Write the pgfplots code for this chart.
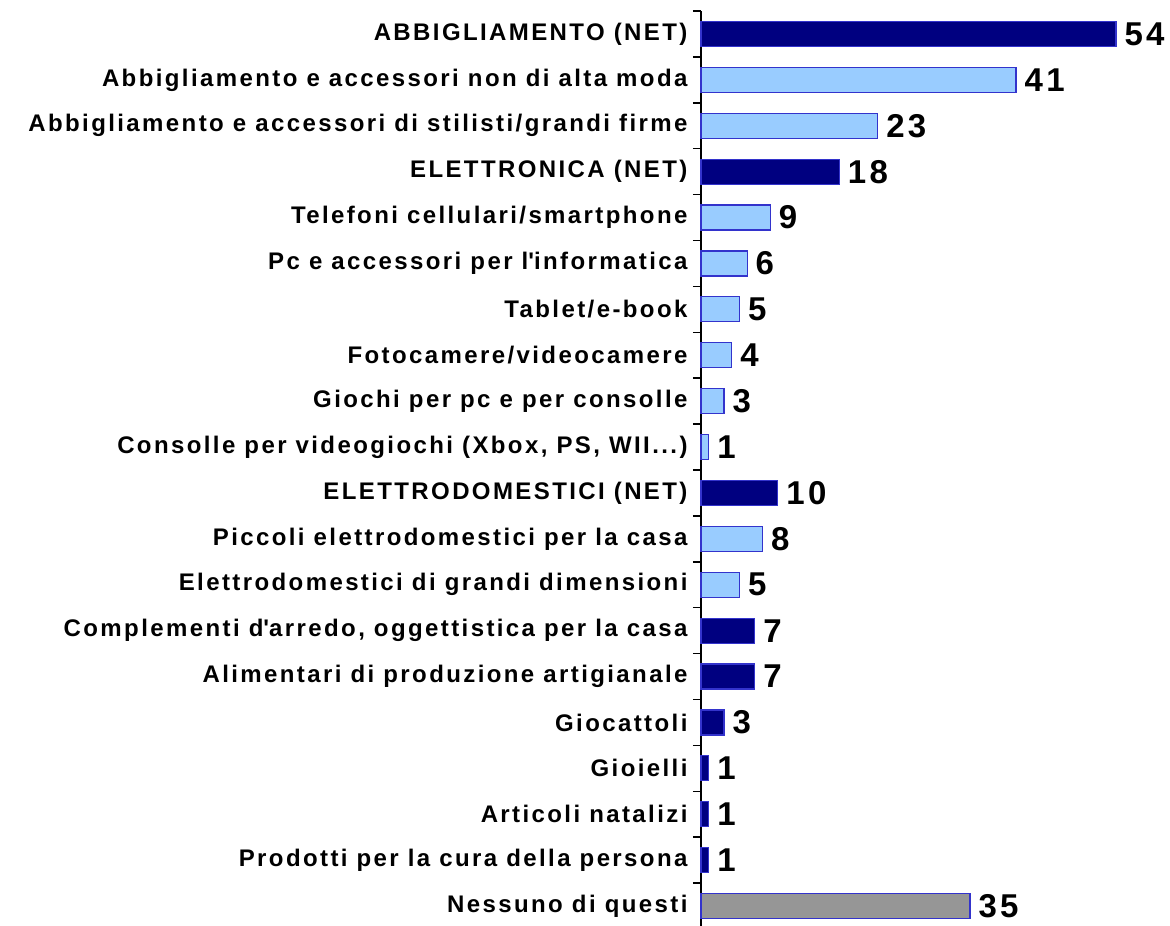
\documentclass[border=0pt]{standalone}
\usepackage{pgfplots}
\pgfplotsset{compat=1.18}
\usepackage{fontspec}
\setmainfont{Liberation Sans}
\newfontfamily\lsfont{Liberation Sans}[LetterSpace=10]
\usetikzlibrary{calc}
\definecolor{darkbar}{HTML}{000080}
\definecolor{lightbar}{HTML}{99CCFF}
\definecolor{graybar}{HTML}{969696}
\definecolor{edgebar}{HTML}{3333CC}
\begin{document}
\begin{tikzpicture}
\begin{axis}[
  x=7.685pt, y=45.9pt,
  xmin=0, xmax=60,
  ymin=-0.5, ymax=19.5,
  y dir=reverse,
  axis x line=none,
  axis y line*=left,
  y axis line style={black, line width=1.5pt},
  xbar, bar width=25pt,
  ytick={0,...,19},
  major tick length=0pt,
  minor ytick={-0.5,0.5,...,19.5},
  minor tick length=8pt,
  tick align=outside,
  minor tick style={black, line width=1.5pt},
  yticklabels={
    ABBIGLIAMENTO (NET),
    Abbigliamento e accessori non di alta moda,
    Abbigliamento e accessori di stilisti/grandi firme,
    ELETTRONICA (NET),
    Telefoni cellulari/smartphone,
    Pc e accessori per l\textquotesingle informatica,
    Tablet/e-book,
    Fotocamere/videocamere,
    Giochi per pc e per consolle,
    {Consolle per videogiochi (Xbox, PS, WII.{}.{}.)},
    ELETTRODOMESTICI (NET),
    Piccoli elettrodomestici per la casa,
    Elettrodomestici di grandi dimensioni,
    {Complementi d\textquotesingle arredo, oggettistica per la casa},
    Alimentari di produzione artigianale,
    Giocattoli,
    Gioielli,
    Articoli natalizi,
    Prodotti per la cura della persona,
    Nessuno di questi},
  yticklabel style={font=\lsfont\fontsize{24}{25}\selectfont\bfseries, xshift=-10pt},
  /pgf/number format/assume math mode=true,
  nodes near coords,
  every node near coord/.append style={font=\lsfont\fontsize{33}{33}\selectfont\bfseries, anchor=west, inner sep=0pt, xshift=8pt, text=black},
  clip=false,
]
\addplot[fill=darkbar, draw=edgebar, line width=1.2pt, bar shift=0pt] coordinates {
  (54,0) (18,3) (10,10) (7,13) (7,14) (3,15) (1,16) (1,17) (1,18)};
\addplot[fill=lightbar, draw=edgebar, line width=1.2pt, bar shift=0pt] coordinates {
  (41,1) (23,2) (9,4) (6,5) (5,6) (4,7) (3,8) (1,9) (8,11) (5,12)};
\addplot[fill=graybar, draw=edgebar, line width=1.2pt, bar shift=0pt] coordinates {
  (35,19)};
\coordinate (tl) at (axis cs:0,-0.5);
\end{axis}
\pgfresetboundingbox
\useasboundingbox ($(tl)+(-701pt,11pt)$) rectangle ($(tl)+(469pt,-915pt)$);
\end{tikzpicture}
\end{document}
